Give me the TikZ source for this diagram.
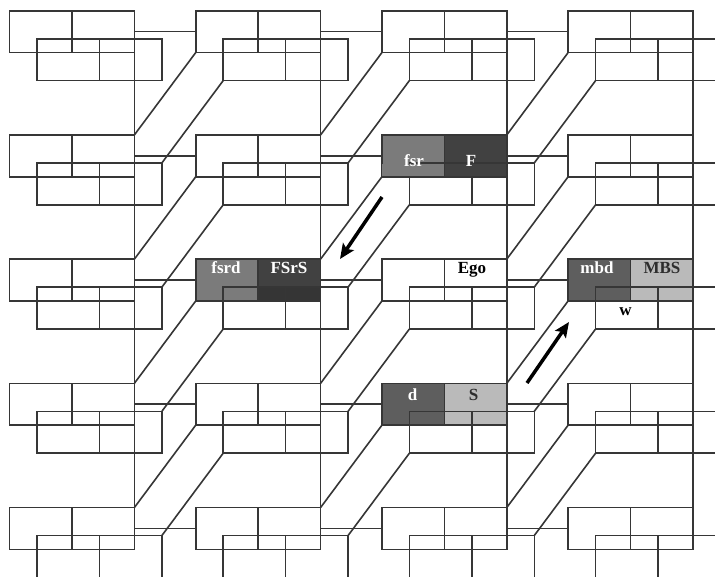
\documentclass[tikz,border=0pt]{standalone}
\usepackage{fontspec}
\setmainfont{Liberation Serif}
\usetikzlibrary{arrows.meta}

\definecolor{gridline}{HTML}{363636}
\definecolor{midgray}{HTML}{7B7B7B}
\definecolor{darkgray}{HTML}{414141}
\definecolor{darkergray}{HTML}{353535}
\definecolor{slategray}{HTML}{5E5E5E}
\definecolor{lightgray}{HTML}{BABABA}
\definecolor{labeldark}{HTML}{2E2E2E}

\tikzset{
  wire/.style={draw=gridline, line width=1.6pt},
  pairbox/.style={rectangle, inner sep=0pt, anchor=north west,
    minimum width=124.5pt, minimum height=41.5pt},
  kinlabel/.style={font=\fontsize{17}{19}\selectfont\bfseries,
    inner sep=0pt, anchor=base},
  kinarrow/.style={line width=3.5pt, black,
    -{Stealth[length=15pt,width=13pt,inset=3pt]}},
}

\begin{document}
\begin{tikzpicture}[x=1pt, y=-1pt]
\useasboundingbox (0,0) rectangle (715,576);
\clip (0,0) rectangle (715,576);
\fill[white] (0,0) rectangle (715,576);

% two interleaved layers of box pairs: upper (u) and lower (l)
\foreach \c in {0,...,3}{
  \foreach \r in {0,...,4}{
    \pgfmathsetmacro{\px}{9.5+186.2*\c}
    \pgfmathsetmacro{\py}{10.7+124.2*\r}
    \node[pairbox] (u\c\r) at (\px,\py) {};
    \node[pairbox] (l\c\r) at (\px+27.5,\py+28) {};
  }
}

% shaded pairs
\fill[midgray]    (u21.north west) rectangle (u21.south);
\fill[darkgray]   (u21.north) rectangle (u21.south east);
\fill[midgray]    (u12.north west) rectangle (u12.south);
\fill[darkgray]   (u12.north) rectangle (u12.south east);
\fill[darkergray] (u12.south) rectangle (l12.north -| u12.east);
\fill[slategray]  (u32.north west) rectangle (u32.south);
\fill[lightgray]  (u32.north) rectangle (u32.south east);
\fill[slategray]  (u23.north west) rectangle (u23.south);
\fill[lightgray]  (u23.north) rectangle (u23.south east);

% outlines and dividers of every pair
\foreach \c in {0,...,3}{
  \foreach \r in {0,...,4}{
    \draw[wire] (u\c\r.north west) rectangle (u\c\r.south east);
    \draw[wire] (u\c\r.north) -- (u\c\r.south);
    \draw[wire] (l\c\r.north west) rectangle (l\c\r.south east);
    \draw[wire] (l\c\r.north) -- (l\c\r.south);
  }
}
% under fsr/F the lower pair shows only its top edge
\fill[midgray]  ([yshift=-1.2pt]u21.west |- l21.north) rectangle ([yshift=1.2pt]u21.south);
\fill[darkgray] ([yshift=-1.2pt]u21.north |- l21.north) rectangle ([yshift=1.2pt]u21.south east);
\draw[wire] (u21.south west) -- (u21.south east);
\draw[wire] (u21.north) -- (u21.south);
\draw[wire] (l21.north west) -- (l21.north east);

% vertical spines along the right edges of the upper boxes
\foreach \c in {0,...,3}{
  \draw[wire] (u\c0.north east) -- (u\c4.south east);
}
% horizontal links between neighbouring upper boxes
\foreach \c/\n in {0/1,1/2,2/3}{
  \foreach \r in {0,...,4}{
    \draw[wire] (u\c\r.east) -- (u\n\r.west);
  }
}
% diagonal links in both layers
\foreach \c/\p in {1/0,2/1,3/2}{
  \foreach \r/\s in {0/1,1/2,2/3,3/4}{
    \draw[wire] (u\c\r.south west) -- (u\p\s.north east);
    \draw[wire] (l\c\r.south west) -- (l\p\s.north east);
  }
}

% kin labels
\node[kinlabel, white]     (tfsr)  at (414,166.5) {fsr};
\node[kinlabel, white]     (tF)    at (471,166.5) {F};
\node[kinlabel, white]     (tfsrd) at (226,273) {fsrd};
\node[kinlabel, white]     (tFSrS) at (289,273) {FSrS};
\node[kinlabel, black]     (tEgo)  at (472,273) {Ego};
\node[kinlabel, white]     (tmbd)  at (597,273) {mbd};
\node[kinlabel, labeldark] (tMBS)  at (662,273) {MBS};
\node[kinlabel, black]     (tw)    at (625.5,315) {w};
\node[kinlabel, white]     (td)    at (412.5,400) {d};
\node[kinlabel, labeldark] (tS)    at (473.5,400) {S};

% movement arrows
\coordinate (a1s) at (382,197);
\coordinate (a1e) at (340,259);
\coordinate (a2s) at (527,383);
\coordinate (a2e) at (569,322);
\draw[kinarrow] (a1s) -- (a1e);
\draw[kinarrow] (a2s) -- (a2e);
\end{tikzpicture}
\end{document}
